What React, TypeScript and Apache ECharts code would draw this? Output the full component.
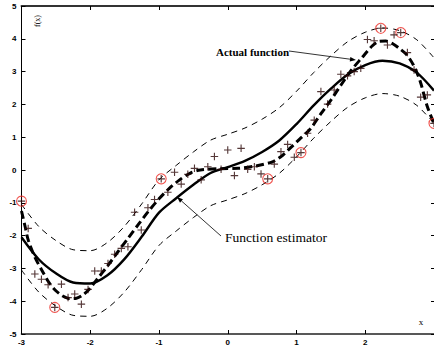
import React, { useEffect, useRef } from "react";
import * as echarts from "echarts";

// noisy training samples (x from -3 to 3)
const sampleX = [
  -3, -2.903, -2.806, -2.71, -2.613, -2.516, -2.419, -2.323, -2.226, -2.129,
  -2.032, -1.935, -1.839, -1.742, -1.645, -1.548, -1.452, -1.355, -1.258, -1.161,
  -1.065, -0.968, -0.871, -0.774, -0.677, -0.581, -0.484, -0.387, -0.29, -0.194,
  -0.097, 0, 0.097, 0.194, 0.29, 0.387, 0.484, 0.581, 0.677, 0.774,
  0.871, 0.968, 1.065, 1.161, 1.258, 1.355, 1.452, 1.548, 1.645, 1.742,
  1.839, 1.935, 2.032, 2.129, 2.226, 2.323, 2.419, 2.516, 2.613, 2.71,
  2.806, 2.903, 3,
];
const sampleY = [
  -0.95, -1.78, -3.17, -3.33, -3.5, -4.19, -3.48, -3.89, -3.78, -4.09,
  -3.64, -3.08, -3.08, -2.85, -2.57, -2.39, -2.34, -1.29, -1.83, -1.15,
  -0.9, -0.27, -0.68, -0.07, -0.43, -0.13, 0.05, -0.3, 0.1, 0.41,
  0.02, 0.61, -0.17, 0.66, 0.02, 0.1, -0.12, -0.27, 0.18, 0.56,
  0.78, 0.39, 0.53, 1.12, 1.52, 2.39, 2.01, 2.44, 2.92, 2.87,
  3.0, 3.1, 3.98, 3.94, 4.32, 3.81, 4.12, 4.19, 3.58, 3.05,
  2.22, 2.29, 1.42,
];
// circled samples (support vectors)
const supportIdx = [0, 5, 21, 37, 42, 54, 57, 62];

// function estimator and its tube
const estX = [
  -3, -2.75, -2.5, -2.25, -2, -1.75, -1.5, -1.25, -1, -0.75, -0.5, -0.25, 0,
  0.25, 0.5, 0.75, 1, 1.25, 1.5, 1.75, 2, 2.25, 2.5, 2.75, 3,
];
const estY = [
  -2.05, -2.72, -3.15, -3.43, -3.46, -3.21, -2.71, -2.03, -1.3, -0.86, -0.45, -0.09, 0.09,
  0.28, 0.55, 0.9, 1.4, 1.97, 2.48, 2.92, 3.2, 3.33, 3.25, 2.97, 2.42,
];
const upperY = [
  -1.05, -1.72, -2.15, -2.43, -2.46, -2.21, -1.71, -1.03, -0.3, 0.14, 0.55, 0.91, 1.09,
  1.28, 1.55, 1.9, 2.4, 2.97, 3.48, 3.92, 4.2, 4.33, 4.25, 3.97, 3.42,
];
const lowerY = [
  -3.05, -3.72, -4.15, -4.43, -4.46, -4.21, -3.71, -3.03, -2.3, -1.86, -1.45, -1.09, -0.91,
  -0.72, -0.45, -0.1, 0.4, 0.97, 1.48, 1.92, 2.2, 2.33, 2.25, 1.97, 1.42,
];

// actual function
const actualX = [
  -3, -2.95, -2.9, -2.8, -2.7, -2.6, -2.5, -2.4, -2.3, -2.2,
  -2.1, -2, -1.9, -1.75, -1.6, -1.45, -1.3, -1.15, -1, -0.85,
  -0.7, -0.55, -0.4, -0.1, 0.15, 0.4, 0.65, 0.8, 0.9, 1.05,
  1.2, 1.35, 1.5, 1.65, 1.8, 1.95, 2.1, 2.2, 2.3, 2.4,
  2.5, 2.6, 2.7, 2.8, 2.9, 3,
];
const actualY = [
  -1.25, -1.7, -2.15, -2.68, -3.07, -3.43, -3.68, -3.84, -3.92, -3.91,
  -3.8, -3.6, -3.33, -2.93, -2.5, -2.08, -1.66, -1.25, -0.88, -0.56,
  -0.3, -0.1, 0.0, 0.04, 0.05, 0.12, 0.25, 0.45, 0.65, 0.95,
  1.25, 1.7, 2.13, 2.6, 3.05, 3.42, 3.78, 3.92, 3.93, 3.85,
  3.7, 3.52, 3.2, 2.7, 1.95, 1.42,
];

const annotActual = "Actual function";
const annotEstimator = "Function estimator";

function arrow(x1: number, y1: number, x2: number, y2: number) {
  const dx = x2 - x1;
  const dy = y2 - y1;
  const len = Math.sqrt(dx * dx + dy * dy);
  const ux = dx / len;
  const uy = dy / len;
  const L = 6;
  const W = 2.2;
  const bx = x2 - ux * L;
  const by = y2 - uy * L;
  return [
    {
      type: "line",
      shape: { x1, y1, x2: bx, y2: by },
      style: { stroke: "#000", lineWidth: 0.8 },
      z: 100,
    },
    {
      type: "polygon",
      shape: {
        points: [
          [x2, y2],
          [bx - uy * W, by + ux * W],
          [bx + uy * W, by - ux * W],
        ],
      },
      style: { fill: "#000" },
      z: 100,
    },
  ];
}

const zip = (xs: number[], ys: number[]) => xs.map((x, i) => [x, ys[i]]);

export default function App() {
  const ref = useRef<HTMLDivElement>(null);
  useEffect(() => {
    if (!ref.current) return;
    const chart = echarts.init(ref.current, undefined, { renderer: "svg" });
    const labelStyle = {
      fontSize: 8,
      fontWeight: "bold" as const,
      fontFamily: "Liberation Sans",
      color: "#000",
    };
    const crossPath =
      "path://M3.4,0 H4.6 V3.4 H8 V4.6 H4.6 V8 H3.4 V4.6 H0 V3.4 H3.4 Z";
    chart.setOption({
      animation: false,
      backgroundColor: "#fff",
      grid: { left: 21.5, right: -1, top: 6, bottom: 13, containLabel: false },
      xAxis: [
        {
          type: "value",
          min: -3,
          max: 3,
          interval: 1,
          position: "bottom",
          axisLine: { onZero: false, lineStyle: { color: "#222", width: 1.6 } },
          axisTick: { inside: true, length: 4, lineStyle: { color: "#000" } },
          axisLabel: { ...labelStyle, margin: 4, showMaxLabel: false },
          splitLine: { show: false },
        },
        {
          type: "value",
          min: -3,
          max: 3,
          interval: 1,
          position: "top",
          axisLine: { onZero: false, lineStyle: { color: "#333", width: 2 } },
          axisTick: { inside: true, length: 4, lineStyle: { color: "#000" } },
          axisLabel: { show: false },
          splitLine: { show: false },
        },
      ],
      yAxis: [
        {
          type: "value",
          min: -5,
          max: 5,
          interval: 1,
          position: "left",
          axisLine: { show: true, onZero: false, lineStyle: { color: "#000", width: 1 } },
          axisTick: { show: true, inside: true, length: 4, lineStyle: { color: "#000" } },
          axisLabel: { ...labelStyle, margin: 5 },
          splitLine: { show: false },
        },
        {
          type: "value",
          min: -5,
          max: 5,
          interval: 1,
          position: "right",
          axisLine: { show: true, onZero: false, lineStyle: { color: "#000", width: 1 } },
          axisTick: { show: true, inside: true, length: 3, lineStyle: { color: "#000" } },
          axisLabel: { show: false },
          splitLine: { show: false },
        },
      ],
      series: [
        {
          type: "line",
          data: zip(estX, upperY),
          smooth: 0.3,
          symbol: "none",
          lineStyle: { color: "#000", width: 1, type: [6, 5] },
          z: 2,
        },
        {
          type: "line",
          data: zip(estX, lowerY),
          smooth: 0.3,
          symbol: "none",
          lineStyle: { color: "#000", width: 1, type: [6, 5] },
          z: 2,
        },
        {
          type: "line",
          data: zip(estX, estY),
          smooth: 0.3,
          symbol: "none",
          lineStyle: { color: "#000", width: 2.4 },
          z: 3,
        },
        {
          type: "line",
          data: zip(actualX, actualY),
          smooth: 0.3,
          symbol: "none",
          lineStyle: { color: "#000", width: 3, type: [8, 4] },
          z: 3,
        },
        {
          type: "scatter",
          data: supportIdx.map((i) => [sampleX[i], sampleY[i]]),
          symbol: "circle",
          symbolSize: 10,
          itemStyle: { color: "rgba(255,255,255,0)", borderColor: "#ec2a24", borderWidth: 1.1 },
          z: 4,
        },
        {
          type: "scatter",
          data: zip(sampleX, sampleY),
          symbol: crossPath,
          symbolSize: 7.5,
          itemStyle: { color: "#2a0606" },
          z: 5,
        },
      ],
      graphic: [
        {
          type: "text",
          x: 37,
          y: 21,
          rotation: Math.PI / 2,
          style: {
            text: "f(x)",
            fill: "#000",
            font: '8px "Liberation Serif"',
            align: "center",
            verticalAlign: "middle",
          },
        },
        {
          type: "text",
          x: 421,
          y: 322,
          style: {
            text: "x",
            fill: "#000",
            font: '9px "Liberation Serif"',
            align: "center",
            verticalAlign: "middle",
          },
        },
        {
          type: "text",
          x: 216,
          y: 52,
          z: 100,
          style: {
            text: annotActual,
            fill: "#000",
            font: 'bold 11px "Liberation Serif"',
            align: "left",
            verticalAlign: "middle",
          },
        },
        ...arrow(289, 51, 356, 60),
        {
          type: "text",
          x: 225,
          y: 238,
          z: 100,
          scaleX: 1.13,
          style: {
            text: annotEstimator,
            fill: "#000",
            font: '12px "Liberation Serif"',
            align: "left",
            verticalAlign: "middle",
          },
        },
        ...arrow(221, 236, 177, 197),
      ],
    });
    return () => chart.dispose();
  }, []);
  return (
    <div
      ref={ref}
      style={{ position: "fixed", left: 0, top: 0, width: 434, height: 347 }}
    />
  );
}
